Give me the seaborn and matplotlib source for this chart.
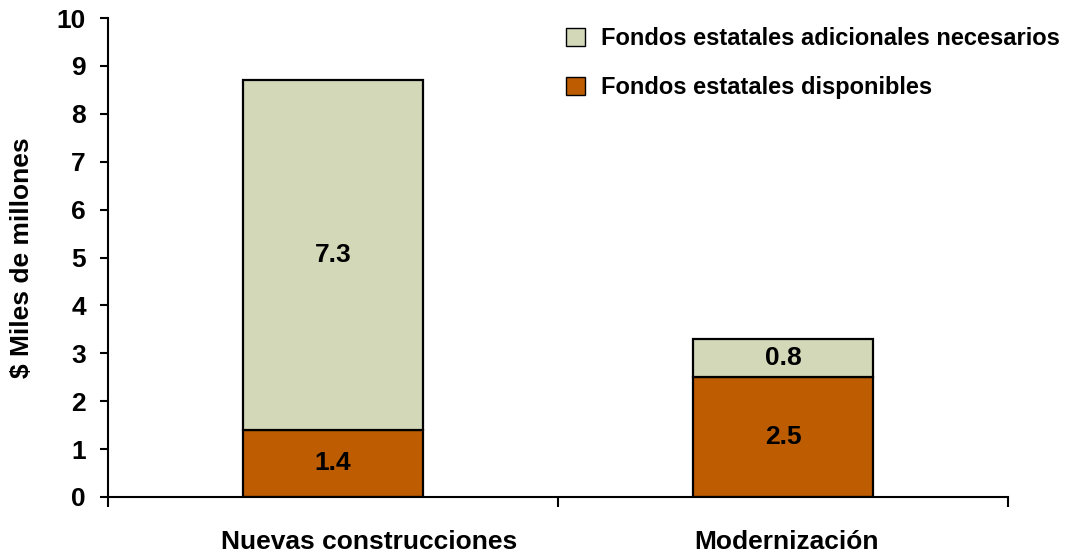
import matplotlib
matplotlib.use("Agg")
import matplotlib.pyplot as plt
import matplotlib.transforms as mtransforms
import seaborn as sns
import pandas as pd
from matplotlib.patches import Patch
from matplotlib.ticker import FixedLocator

categories = ["Nuevas construcciones", "Modernización"]
disponibles = [1.4, 2.5]
adicionales = [7.3, 0.8]
series_names = ["Fondos estatales adicionales necesarios", "Fondos estatales disponibles"]
yticks = list(range(0, 11))

color_disp = "#BD5C00"
color_adic = "#D3D8B8"

sns.set_theme(style="white")
plt.rcParams['font.family'] = ['Liberation Sans', 'DejaVu Sans']
plt.rcParams['font.weight'] = 'bold'
plt.rcParams['text.color'] = 'black'
plt.rcParams['axes.labelcolor'] = 'black'
plt.rcParams['xtick.color'] = 'black'
plt.rcParams['ytick.color'] = 'black'

df = pd.DataFrame({"cat": categories, "disp": disponibles, "adic": adicionales})

fig = plt.figure(figsize=(10.7, 5.54), dpi=100)
ax = fig.add_axes([108/1070, 57/554, 900/1070, 479/554])

sns.barplot(data=df, x="cat", y="disp", color=color_disp, width=0.4,
            edgecolor="black", linewidth=1.6, saturation=1, ax=ax)
sns.barplot(data=df, x="cat", y="adic", bottom=df["disp"], color=color_adic, width=0.4,
            edgecolor="black", linewidth=1.6, saturation=1, ax=ax)

for i, (d, a) in enumerate(zip(disponibles, adicionales)):
    ax.text(i, d / 2, f"{d:.1f}", ha="center", va="center", fontsize=19, fontweight="bold", color="black")
    ax.text(i, d + a / 2, f"{a:.1f}", ha="center", va="center", fontsize=19, fontweight="bold", color="black")

ax.set_xlim(-0.5, 1.5)
ax.set_ylim(0, 10)
ax.set_yticks(yticks)
ax.set_yticklabels([str(t) for t in yticks], fontsize=19, fontweight="bold")
ax.set_xticks([0, 1])
ax.set_xticklabels(categories, fontsize=19, fontweight="bold")
ax.xaxis.set_minor_locator(FixedLocator([-0.5, 0.5, 1.5]))
ax.tick_params(axis="x", which="major", length=0, pad=24)
ax.tick_params(axis="x", which="minor", direction="out", length=7, width=1.5, color="black", bottom=True)
ax.tick_params(axis="y", which="major", direction="out", length=6, width=1.5, color="black", left=True, pad=10)

# small horizontal offsets of category labels as in the reference
for lbl, dx in zip(ax.get_xticklabels(), [36, 4]):
    lbl.set_transform(lbl.get_transform() + mtransforms.ScaledTranslation(dx / 100, 0, fig.dpi_scale_trans))

ax.set_xlabel("")
ax.set_ylabel("$ Miles de millones", fontsize=19, fontweight="bold", labelpad=16)

for s in ["top", "right"]:
    ax.spines[s].set_visible(False)
for s in ["left", "bottom"]:
    ax.spines[s].set_color("black")
    ax.spines[s].set_linewidth(1.5)

handles = [Patch(facecolor=color_adic, edgecolor="black", linewidth=1),
           Patch(facecolor=color_disp, edgecolor="black", linewidth=1)]
leg = ax.legend(handles, series_names, loc="upper left", bbox_to_anchor=(449/900, 1.0),
                frameon=False, prop={"size": 17, "weight": "bold"},
                handlelength=0.78, handleheight=0.78, labelspacing=1.1, handletextpad=0.7,
                borderaxespad=0)

fig.savefig("out.png", dpi=100)
